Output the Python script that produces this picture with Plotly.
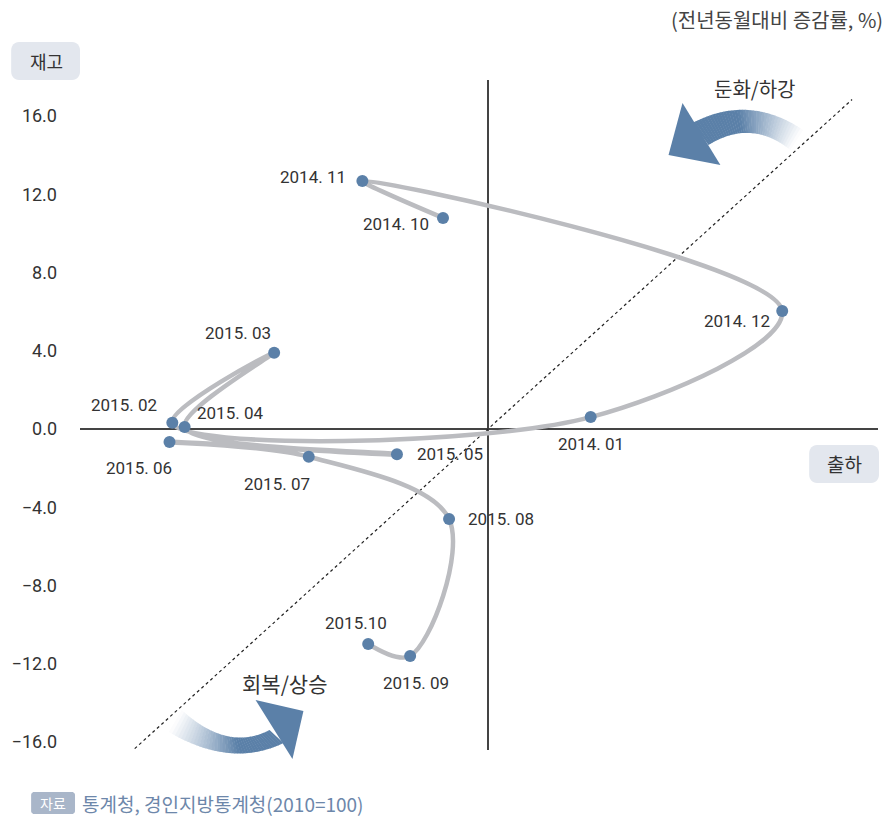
import plotly.graph_objects as go
import math

# ---- data (전년동월대비 증감률, %) ----
labels = ["2014. 10", "2014. 11", "2014. 12", "2014. 01", "2015. 02", "2015. 03", "2015. 04",
          "2015. 05", "2015. 06", "2015. 07", "2015. 08", "2015. 09", "2015.10"]
shipment = [-2.08, -5.81, 13.61, 4.75, -14.60, -9.89, -14.03, -4.21, -14.73, -8.29, -1.80, -3.60, -5.54]
inventory = [10.79, 12.68, 6.03, 0.61, 0.32, 3.90, 0.10, -1.29, -0.66, -1.42, -4.60, -11.60, -10.99]
y_ticks = [-16, -12, -8, -4, 0, 4, 8, 12, 16]
diag = [-16.34, 16.84]

# label offsets (pixels) relative to each point
label_dx = [-47, -49, -45, 0, -48, -36, 45, 53, -31, -32, 52, 6, -12]
label_dy = [-6, 4, -10, -27, 18, 20, 14, 0, -26, -27, 0, -27, 21]

W, H = 891, 816
L, R, T, B = 78, 13, 80, 66
pw, ph = W - L - R, H - T - B

def px(x, y):
    return ((x - L) / pw, (H - B - y) / ph)

def path_from(points):
    s = ""
    for i, (x, y) in enumerate(points):
        u, v = px(x, y)
        s += ("M" if i == 0 else "L") + f"{u:.5f},{v:.5f} "
    return s + "Z"

def rounded_rect(x0, y0, x1, y1, r):
    pts = []
    corners = [(x1 - r, y0 + r, -90), (x1 - r, y1 - r, 0), (x0 + r, y1 - r, 90), (x0 + r, y0 + r, 180)]
    for cx, cy, a0 in corners:
        for k in range(7):
            a = math.radians(a0 + k * 15)
            pts.append((cx + r * math.cos(a), cy + r * math.sin(a)))
    return path_from(pts)

def bez(p0, c, p2, t):
    return ((1 - t) ** 2 * p0[0] + 2 * t * (1 - t) * c[0] + t * t * p2[0],
            (1 - t) ** 2 * p0[1] + 2 * t * (1 - t) * c[1] + t * t * p2[1])

BLUE = (91, 128, 168)

def grad_band(top, bot, n=40, full=0.6):
    shapes = []
    for i in range(n):
        t0, t1 = i / n, (i + 1) / n
        f = min(1.0, ((t0 + t1) / 2) / full)
        col = tuple(int(round(255 + (b - 255) * f)) for b in BLUE)
        pts = [bez(*top, t0), bez(*top, min(1, t1 + 0.004)), bez(*bot, min(1, t1 + 0.004)), bez(*bot, t0)]
        shapes.append(dict(type="path", xref="paper", yref="paper", path=path_from(pts),
                           fillcolor=f"rgb{col}", line=dict(width=0), layer="below"))
    return shapes

fig = go.Figure()

fig.add_trace(go.Scatter(x=diag, y=diag, mode="lines",
                         line=dict(color="#222", width=1.2, dash="3px,3px"),
                         hoverinfo="skip", showlegend=False))

fig.add_trace(go.Scatter(x=shipment, y=inventory, mode="lines",
                         line=dict(color="#bbbcc0", width=4.5, shape="spline", smoothing=1.0),
                         hoverinfo="skip", showlegend=False))
fig.add_trace(go.Scatter(x=shipment, y=inventory, mode="markers",
                         marker=dict(color="#5b80a8", size=12),
                         showlegend=False))

num_family = "Roboto, sans-serif"
label_font = dict(family=num_family, size=17, color="#333")
for lab, x, y, dx, dy in zip(labels, shipment, inventory, label_dx, label_dy):
    fig.add_annotation(x=x, y=y, xref="x", yref="y", text=lab, showarrow=False,
                       xshift=dx, yshift=dy, font=label_font)

shapes = []
# top arrow (둔화/하강)
shapes += grad_band(((803, 130), (748.5, 93.5), (692, 123)),
                    ((790, 150), (751, 118.5), (708, 145)))
shapes.append(dict(type="path", xref="paper", yref="paper",
                   path=path_from([(682, 103), (668, 155), (720, 165)]),
                   fillcolor="rgb(91,128,168)", line=dict(width=0)))
# bottom arrow (회복/상승)
shapes += grad_band(((180, 710), (226, 752), (268, 730)),
                    ((167, 732), (229.5, 768.5), (282, 743)))
shapes.append(dict(type="path", xref="paper", yref="paper",
                   path=path_from([(254, 700), (302, 711), (291, 759)]),
                   fillcolor="rgb(91,128,168)", line=dict(width=0)))
# label boxes
shapes.append(dict(type="path", xref="paper", yref="paper", path=rounded_rect(9, 42, 78, 80, 8),
                   fillcolor="#e3e7ee", line=dict(width=0)))
shapes.append(dict(type="path", xref="paper", yref="paper", path=rounded_rect(809, 445, 879, 483, 8),
                   fillcolor="#e3e7ee", line=dict(width=0)))
shapes.append(dict(type="path", xref="paper", yref="paper", path=rounded_rect(29, 792, 73, 814, 3),
                   fillcolor="#a9b6c9", line=dict(width=0)))

kfont = "Noto Sans CJK KR, sans-serif"
def ann(x, y, text, size, color="#333", xanchor="center"):
    u, v = px(x, y)
    fig.add_annotation(x=u, y=v, xref="paper", yref="paper", text=text, showarrow=False,
                       xanchor=xanchor, yanchor="middle",
                       font=dict(family=kfont, size=size, color=color))

ann(44, 61, "재고", 18)
ann(844, 464, "출하", 19)
ann(885, 20, "(전년동월대비 증감률, %)", 20, "#444", "right")
ann(754, 88, "둔화/하강", 20)
ann(284, 683, "회복/상승", 21)
ann(51, 803, "자료", 14, "white")
ann(78, 803, "통계청, 경인지방통계청(2010=100)", 19, "#6d87aa", "left")

fig.update_layout(
    width=W, height=H,
    margin=dict(l=L, r=R, t=T, b=B),
    paper_bgcolor="white", plot_bgcolor="white",
    shapes=shapes,
    xaxis=dict(range=[-18.87, 18.04], showgrid=False, showticklabels=False, ticks="",
               zeroline=True, zerolinecolor="#444", zerolinewidth=1.5, showline=False, fixedrange=True),
    yaxis=dict(range=[-16.41, 17.84], showgrid=False, tickvals=y_ticks, tickformat=".1f",
               ticks="", ticklabelstandoff=22,
               tickfont=dict(family=num_family, size=18, color="#333"),
               zeroline=True, zerolinecolor="#444", zerolinewidth=1.5, showline=False, fixedrange=True),
)

fig.write_html("out.html", config={"displayModeBar": False},
               post_script="document.body.style.margin='0';document.body.style.overflow='hidden';")
